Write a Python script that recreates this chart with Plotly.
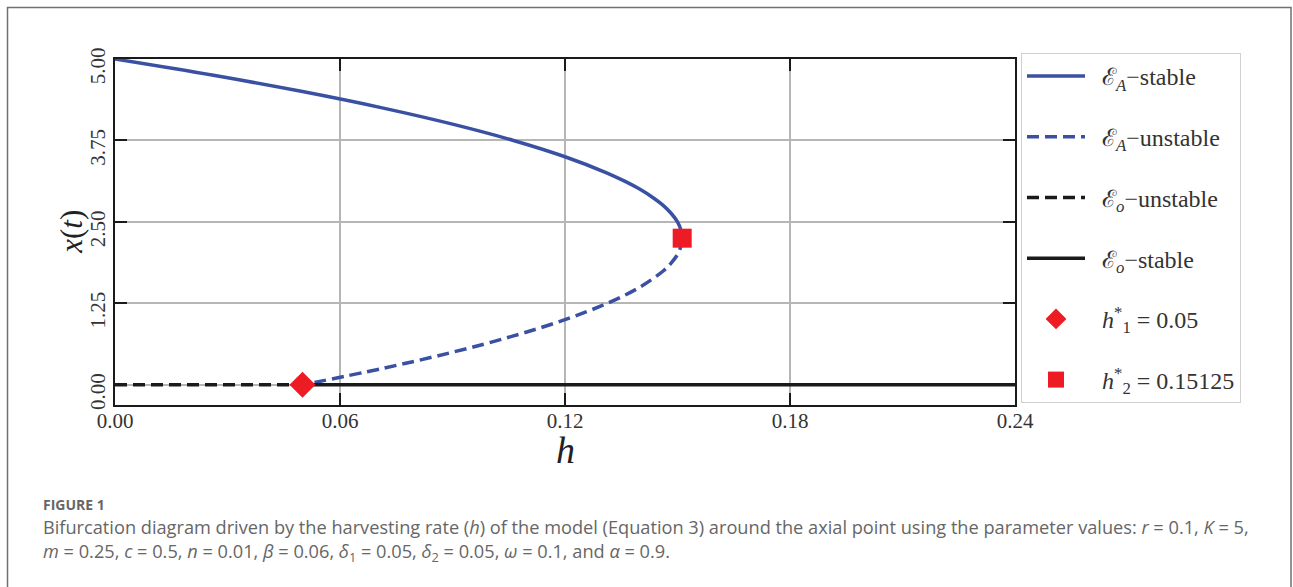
import plotly.graph_objects as go

# ---- data ----
# E_A stable branch (upper): population x vs harvesting h
ea_stable_x = [5.0, 4.75, 4.5, 4.25, 4.0, 3.75, 3.5, 3.25, 3.125, 3.0, 2.875, 2.75, 2.625, 2.5, 2.375, 2.25]
ea_stable_h = [0.0, 0.02625, 0.05, 0.07125, 0.09, 0.10625, 0.12, 0.13125, 0.1359, 0.14, 0.1434, 0.14625, 0.1484, 0.15, 0.1509, 0.15125]
# E_A unstable branch (lower)
ea_unstable_x = [2.25, 2.125, 2.0, 1.875, 1.75, 1.5, 1.25, 1.0, 0.75, 0.5, 0.25, 0.0]
ea_unstable_h = [0.15125, 0.1509, 0.15, 0.1484, 0.14625, 0.14, 0.13125, 0.12, 0.10625, 0.09, 0.07125, 0.05]
# E_o branches (x = 0)
eo_unstable_h = [0.0, 0.05]
eo_unstable_x = [0.0, 0.0]
eo_stable_h = [0.05, 0.24]
eo_stable_x = [0.0, 0.0]
# bifurcation points
h1_point = (0.05, 0.0)
h2_point = (0.15125, 2.25)

x_ticks = [0.0, 0.06, 0.12, 0.18, 0.24]
x_ticklabels = ["0.00", "0.06", "0.12", "0.18", "0.24"]
y_ticks = [0.0, 1.25, 2.5, 3.75, 5.0]
y_ticklabels = ["0.00", "1.25", "2.50", "3.75", "5.00"]

BLUE = "#3a51a3"
BLACK = "#1a1a1a"
RED = "#ed1c24"
SERIF = "Liberation Serif, DejaVu Serif, serif"
NB = "\u00a0\u00a0"

fig = go.Figure()
fig.add_trace(go.Scatter(x=ea_stable_h, y=ea_stable_x, mode="lines", line=dict(color=BLUE, width=3.5, shape="spline"),
                         name=NB + "ℰ<sub><i>A</i></sub>−stable", legendgroup="g1"))
fig.add_trace(go.Scatter(x=ea_unstable_h, y=ea_unstable_x, mode="lines",
                         line=dict(color=BLUE, width=3.5, dash="12px,6px", shape="spline"),
                         name=NB + "ℰ<sub><i>A</i></sub>−unstable", legendgroup="g2"))
fig.add_trace(go.Scatter(x=eo_unstable_h, y=eo_unstable_x, mode="lines",
                         line=dict(color=BLACK, width=3.5, dash="12px,6px"),
                         name=NB + "ℰ<sub><i>o</i></sub>−unstable", legendgroup="g3"))
fig.add_trace(go.Scatter(x=eo_stable_h, y=eo_stable_x, mode="lines", line=dict(color=BLACK, width=3.5),
                         name=NB + "ℰ<sub><i>o</i></sub>−stable", legendgroup="g4"))
fig.add_trace(go.Scatter(x=[h1_point[0]], y=[h1_point[1]], mode="markers",
                         marker=dict(symbol="diamond", size=20, color=RED),
                         name=NB + "<i>h</i><sup>*</sup><sub>1</sub> = 0.05", legendgroup="g5", cliponaxis=False))
fig.add_trace(go.Scatter(x=[h2_point[0]], y=[h2_point[1]], mode="markers",
                         marker=dict(symbol="square", size=19, color=RED),
                         name=NB + "<i>h</i><sup>*</sup><sub>2</sub> = 0.15125", legendgroup="g6"))

L, R, T, B = 115, 1015, 59, 405.5
W, H = 1293, 587
PW, PH = R - L, B - T

def px(xp):
    return (xp - L) / PW

def py(yp):
    return (B - yp) / PH

axis_common = dict(showline=True, linecolor=BLACK, linewidth=2, mirror="allticks",
                   ticks="inside", ticklen=12, tickwidth=2, tickcolor=BLACK,
                   showgrid=True, gridcolor="#b6b6b6", gridwidth=1.5, zeroline=False,
                   tickfont=dict(family=SERIF, size=21, color="#333"))

fig.update_layout(
    width=W, height=H,
    margin=dict(l=L, r=W - R, t=T, b=H - B),
    paper_bgcolor="white", plot_bgcolor="white",
    xaxis=dict(range=[0, 0.24], tickvals=x_ticks, ticktext=x_ticklabels, ticklabelstandoff=-4,
               **axis_common),
    yaxis=dict(range=[-0.31, 5.0], tickvals=y_ticks, ticktext=y_ticklabels, tickangle=-90,
               ticklabelshift=10, **axis_common),
    legend=dict(x=px(1021), y=py(53), xanchor="left", yanchor="top",
                bordercolor="#d0d0d0", borderwidth=1, bgcolor="white",
                font=dict(family=SERIF, size=24, color="#333"),
                itemwidth=58, tracegroupgap=26.5, maxheight=560),
    showlegend=True,
)

# axis titles
fig.add_annotation(xref="paper", yref="paper", x=px(565), y=py(451), xanchor="center", yanchor="middle",
                   text="<i>h</i>", showarrow=False, font=dict(family=SERIF, size=38, color="#222"))
fig.add_annotation(xref="paper", yref="paper", x=px(72), y=py(232), xanchor="center", yanchor="middle",
                   text="<i>x</i>(<i>t</i>)", textangle=-90, showarrow=False,
                   font=dict(family=SERIF, size=31, color="#222"))

# outer figure frame
fig.add_shape(type="rect", xref="paper", yref="paper",
              x0=px(7.5), x1=px(1291), y0=py(7.5), y1=py(640),
              line=dict(color="#707070", width=1.5), fillcolor="rgba(0,0,0,0)", layer="below")

cap_font = "Open Sans, Lato, sans-serif"
fig.add_annotation(xref="paper", yref="paper", x=px(41), y=py(505), xanchor="left", yanchor="middle",
                   text="<b>FIGURE 1</b>", showarrow=False, font=dict(family="Open Sans, sans-serif", size=14, color="#666"))
fig.add_annotation(xref="paper", yref="paper", x=px(41), y=py(528), xanchor="left", yanchor="middle",
                   text="Bifurcation diagram driven by the harvesting rate (<i>h</i>) of the model (Equation 3) around the axial point using the parameter values: <i>r</i> = 0.1, <i>K</i> = 5,",
                   showarrow=False, font=dict(family=cap_font, size=18.2, color="#666"))
fig.add_annotation(xref="paper", yref="paper", x=px(41), y=py(553), xanchor="left", yanchor="middle",
                   text="<i>m</i> = 0.25, <i>c</i> = 0.5, <i>n</i> = 0.01, <i>β</i> = 0.06, <i>δ</i><sub>1</sub> = 0.05, <i>δ</i><sub>2</sub> = 0.05, <i>ω</i> = 0.1, and <i>α</i> = 0.9.",
                   showarrow=False, font=dict(family=cap_font, size=18.2, color="#666"))

fig.write_html("out.html")
